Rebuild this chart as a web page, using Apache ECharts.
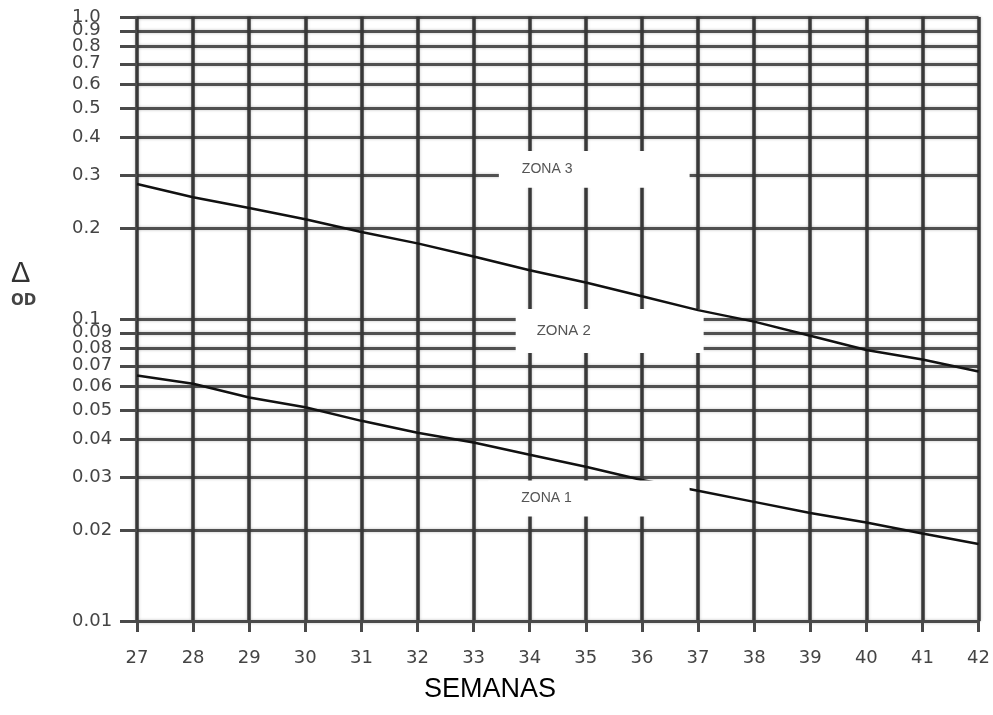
<!DOCTYPE html>
<html><head><meta charset="utf-8">
<script src="https://cdn.jsdelivr.net/npm/echarts@6/dist/echarts.min.js"></script>
<style>html,body{margin:0;padding:0;background:#fff}#c{width:993px;height:715px}</style>
</head><body><div id="c"></div>
<script>
// ---- data ----
const weeks = [27,28,29,30,31,32,33,34,35,36,37,38,39,40,41,42];
const upperLine = [0.28,0.253,0.233,0.214,0.194,0.178,0.161,0.145,0.132,0.119,0.107,0.098,0.088,0.079,0.0734,0.067];
const lowerLine = [0.065,0.061,0.055,0.051,0.046,0.042,0.039,0.0355,0.0324,0.0293,0.027,0.0248,0.0228,0.0212,0.0195,0.018];
const yTickValues = [0.01,0.02,0.03,0.04,0.05,0.06,0.07,0.08,0.09,0.1,0.2,0.3,0.4,0.5,0.6,0.7,0.8,0.9,1];
const yTickLabels = ['0.01','0.02','0.03','0.04','0.05','0.06','0.07','0.08','0.09','0.1','0.2','0.3','0.4','0.5','0.6','0.7','0.8','0.9','1.0'];
const xTickLabels = ['27','28','29','30','31','32','33','34','35','36','37','38','39','40','41','42'];
const zoneNames = ['ZONA 3','ZONA 2','ZONA 1'];
const xTitle = 'SEMANAS';
const yTitle = ['Δ', 'OD'];

// zone label boxes (data coordinates: week range, value range)
const zoneBoxes = [
  {name: zoneNames[0], x: [33.45, 36.85], y: [0.36, 0.272], fs: 14, pad: 23},
  {name: zoneNames[1], x: [33.75, 37.1], y: [0.108, 0.0772], fs: 15, pad: 21},
  {name: zoneNames[2], x: [33.26, 36.85], y: [0.0292, 0.0222], fs: 14, pad: 33}
];

const chart = echarts.init(document.getElementById('c'));
function yLabel(v){
  let best = 0, bd = Infinity;
  yTickValues.forEach((t,i)=>{const d=Math.abs(Math.log(t)-Math.log(v)); if(d<bd){bd=d;best=i;}});
  return yTickLabels[best];
}
// labels split over two co-located axes so that the crowded 0.9 / 1.0 pair both show
const yLabelsA = yTickValues.filter((v,i)=>i % 2 === 0);
const yLabelsB = yTickValues.filter((v,i)=>i % 2 === 1);
const gridColor = '#4a4a4a';
const yLabelStyle = {align: 'left', margin: 65, fontFamily: 'DejaVu Sans', fontSize: 18, color: '#444',
  showMinLabel: true, showMaxLabel: true, hideOverlap: false, formatter: v => yLabel(v)};
chart.setOption({
  animation: false,
  backgroundColor: '#fff',
  grid: {left: 137, right: 10, top: 17, bottom: 94},
  xAxis: {
    type: 'value', min: 27, max: 42, interval: 1,
    axisLine: {show: true, lineStyle: {color: gridColor, width: 3}},
    axisTick: {show: true, length: 11, lineStyle: {color: gridColor, width: 3}},
    axisLabel: {margin: 28, fontFamily: 'DejaVu Sans', fontSize: 18, color: '#444',
      formatter: v => xTickLabels[Math.round(v) - 27]},
    splitLine: {show: true, lineStyle: {color: '#383838', width: 3.5, shadowColor: 'rgba(0,0,0,0.25)', shadowBlur: 3}}
  },
  yAxis: [{
    type: 'log', logBase: 10, min: 0.01, max: 1, position: 'left',
    axisLine: {show: false},
    axisTick: {show: true, length: 17, customValues: yTickValues, lineStyle: {color: gridColor, width: 3}},
    axisLabel: Object.assign({customValues: yLabelsA}, yLabelStyle),
    splitLine: {show: true, lineStyle: {color: '#505050', width: 3, shadowColor: 'rgba(0,0,0,0.25)', shadowBlur: 3}}
  }, {
    type: 'log', logBase: 10, min: 0.01, max: 1, position: 'left', offset: 0,
    axisLine: {show: false}, axisTick: {show: false}, splitLine: {show: false},
    axisLabel: Object.assign({customValues: yLabelsB}, yLabelStyle)
  }],
  graphic: [
    {type: 'text', left: 11, top: 259, style: {text: yTitle[0], font: '29px "Liberation Sans"', fill: '#333'}},
    {type: 'text', left: 11, top: 294, style: {text: yTitle[1], font: 'bold 15px "DejaVu Sans"', fill: '#444'}},
    {type: 'text', x: 490, y: 690, style: {text: xTitle, font: '27px "Liberation Sans"', fill: '#000', align: 'center', verticalAlign: 'middle'}}
  ],
  series: [
    {
      type: 'line', name: 'upper', z: 10, symbol: 'none', silent: true,
      lineStyle: {color: '#111', width: 2.5},
      data: weeks.map((w,i)=>[w, upperLine[i]])
    },
    {
      type: 'line', name: 'lower', z: 3, symbol: 'none', silent: true,
      lineStyle: {color: '#111', width: 2.5},
      data: weeks.map((w,i)=>[w, lowerLine[i]])
    },
    {
      type: 'line', name: 'zones', z: 5, data: [], silent: true,
      markArea: {
        z: 5,
        silent: true,
        itemStyle: {color: '#fff', opacity: 1},
        emphasis: {disabled: true},
        data: zoneBoxes.map(b => [
          {coord: [b.x[0], b.y[0]], name: b.name,
           label: {show: true, position: 'insideLeft', distance: b.pad, color: '#555', fontFamily: 'Liberation Sans', fontSize: b.fs}},
          {coord: [b.x[1], b.y[1]]}
        ])
      }
    }
  ]
});
</script></body></html>
